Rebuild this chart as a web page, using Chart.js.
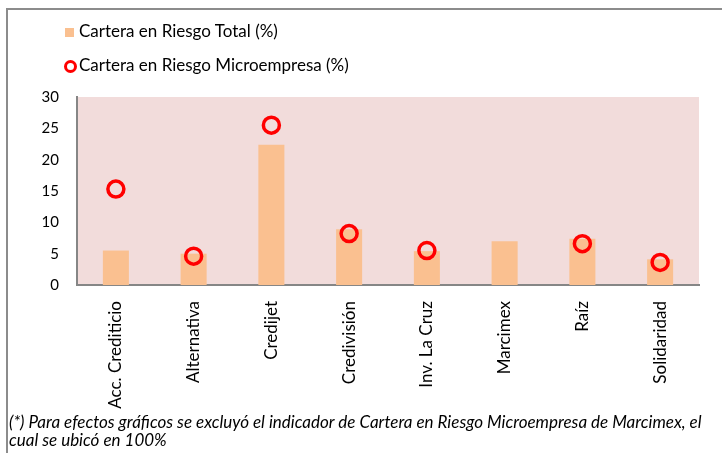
<!DOCTYPE html>
<html>
<head>
<meta charset="utf-8">
<script src="https://cdn.jsdelivr.net/npm/chart.js@4"></script>
<style>
  html, body { margin:0; padding:0; background:#fff; }
  body { width:722px; height:453px; position:relative; overflow:hidden; font-family:Lato, sans-serif; }
  #frame { position:absolute; left:6px; top:8px; right:-4px; bottom:-4px; border-left:2px solid #8c8c8c; border-top:2px solid #8c8c8c; }
  #wrap { position:absolute; left:0; top:0; width:722px; height:453px; }
  .leg { position:absolute; left:79px; font-size:17px; color:#000; white-space:nowrap; line-height:20px; }
  .sq { position:absolute; left:65px; top:28px; width:9px; height:9px; background:#fac090; }
  .ring { position:absolute; left:64px; top:60px; width:7px; height:7px; border:3px solid #ff0000; border-radius:50%; background:#fff; }
  #note { position:absolute; left:9px; top:413px; font-size:17px; font-style:italic; line-height:18px; color:#000; white-space:nowrap; }
</style>
</head>
<body>
<div id="frame"></div>
<div id="wrap"><canvas id="chart"></canvas></div>
<div class="sq"></div>
<div class="leg" style="top:21px">Cartera en Riesgo Total (%)</div>
<div class="ring"></div>
<div class="leg" style="top:55px">Cartera en Riesgo Microempresa (%)</div>
<div id="note">(*) Para efectos gráficos se excluyó el indicador de Cartera en Riesgo Microempresa de Marcimex, el<br>cual se ubicó en 100%</div>
<script>
const entidades = ['Acc. Crediticio','Alternativa','Credijet','Credivisión','Inv. La Cruz','Marcimex','Raíz','Solidaridad'];
const riesgoTotal = [5.5, 5.0, 22.4, 8.9, 5.4, 7.0, 7.4, 4.1];
const riesgoMicro = [15.3, 4.6, 25.5, 8.2, 5.5, null, 6.6, 3.6];
const yTicks = [0, 5, 10, 15, 20, 25, 30];

// pink plot background
const plotBg = {
  id:'plotBg',
  beforeDraw(chart){
    const {ctx, chartArea:a} = chart;
    ctx.save();
    ctx.fillStyle = '#f2dcdb';
    ctx.fillRect(a.left, a.top, a.right - a.left, a.bottom - a.top);
    ctx.restore();
  }
};

new Chart(document.getElementById('chart'), {
  type:'bar',
  data:{
    labels:entidades,
    datasets:[
      {
        type:'line', label:'Cartera en Riesgo Microempresa (%)', data:riesgoMicro,
        showLine:false, pointStyle:'circle', pointRadius:8, pointHoverRadius:8,
        borderColor:'#ff0000', pointBorderWidth:3.5, backgroundColor:'rgba(0,0,0,0)', order:0
      },
      {
        label:'Cartera en Riesgo Total (%)', data:riesgoTotal,
        backgroundColor:'#fac090', borderWidth:0,
        categoryPercentage:1, barPercentage:0.335, order:1
      }
    ]
  },
  options:{
    responsive:true, maintainAspectRatio:false, animation:false,
    layout:{padding:{left:0, top:97, right:23, bottom:0}},
    plugins:{legend:{display:false}, tooltip:{enabled:false}},
    scales:{
      x:{
        grid:{display:false, drawTicks:false},
        border:{color:'#868686', width:2},
        ticks:{minRotation:90, maxRotation:90, padding:16, color:'#000', font:{family:'Lato', size:17}},
        afterFit(s){ s.height = 168; }
      },
      y:{
        min:0, max:30,
        grid:{display:false, drawTicks:false},
        border:{color:'#868686', width:2},
        ticks:{stepSize:5, padding:18, color:'#000', font:{family:'Lato', size:15},
          callback:(v)=> yTicks.includes(v) ? v : ''},
        afterFit(s){ s.width = 77; }
      }
    }
  },
  plugins:[plotBg]
});
</script>
</body>
</html>
